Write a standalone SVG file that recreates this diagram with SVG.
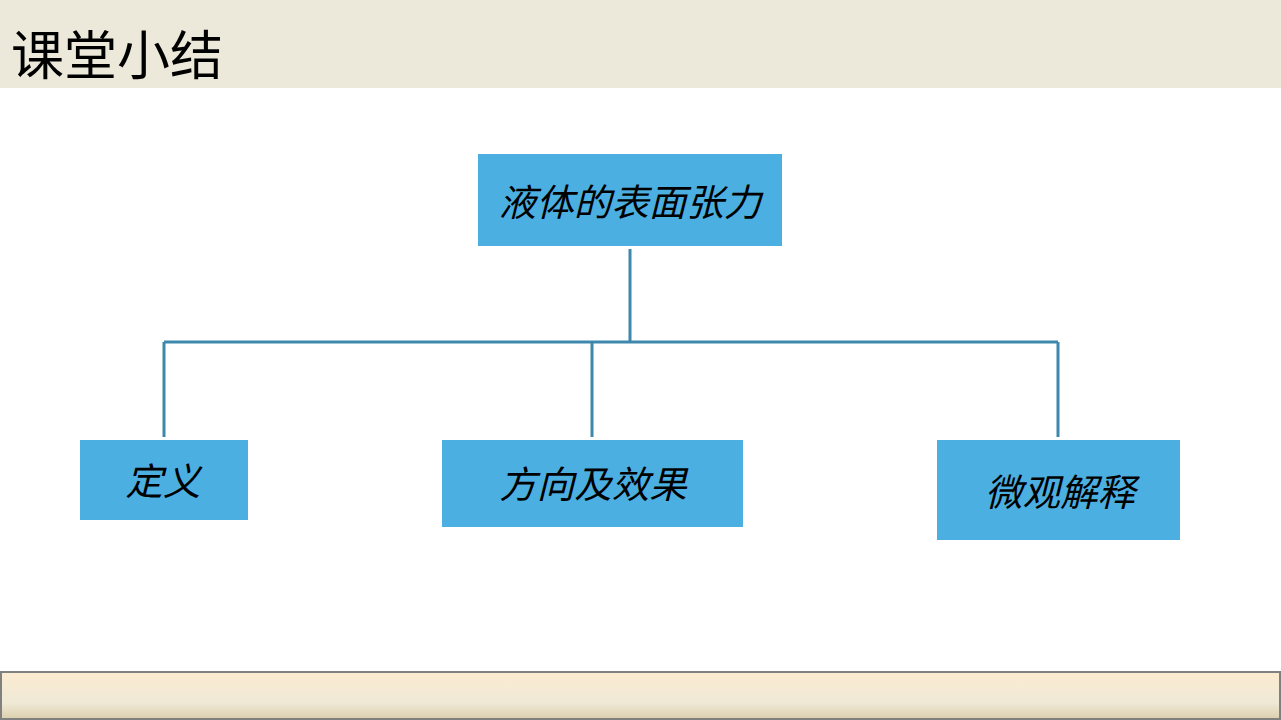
<svg xmlns="http://www.w3.org/2000/svg" width="1281" height="720" viewBox="0 0 1281 720">
<defs>
<linearGradient id="foot" x1="0" y1="0" x2="0" y2="1">
<stop offset="0" stop-color="#FCEBD0"/>
<stop offset="0.65" stop-color="#EFE9D6"/>
<stop offset="1" stop-color="#DCCFAE"/>
</linearGradient>
<style>
.box{fill:#4BAFE2;}
.lbl{font-family:"Liberation Sans","Noto Sans CJK SC",sans-serif;font-style:italic;font-size:37.5px;fill:#000;text-anchor:middle;}
.con{stroke:#3D88AC;stroke-width:3;fill:none;}
</style>
</defs>
<rect x="0" y="0" width="1281" height="720" fill="#FFFFFF"/>
<rect x="0" y="0" width="1281" height="88" fill="#ECE8DA"/>
<text x="11" y="75" font-family="'Noto Sans CJK SC',sans-serif" font-size="53" fill="#000">课堂小结</text>
<rect x="1" y="672" width="1279" height="47" fill="url(#foot)" stroke="#808080" stroke-width="2"/>
<g id="connectors">
<path class="con" d="M630,249 V342 M164,342 H1058 M164,342 V437 M592,342 V437 M1058,342 V437"/>
</g>
<g id="root">
<rect class="box" x="478" y="154" width="304" height="92"/>
<text class="lbl" x="630" y="216">液体的表面张力</text>
</g>
<g id="def">
<rect class="box" x="80" y="440" width="168" height="80"/>
<text class="lbl" x="163" y="495">定义</text>
</g>
<g id="dir">
<rect class="box" x="442" y="440" width="301" height="87"/>
<text class="lbl" x="593" y="498">方向及效果</text>
</g>
<g id="micro">
<rect class="box" x="937" y="440" width="243" height="100"/>
<text class="lbl" x="1060" y="506">微观解释</text>
</g>
</svg>
